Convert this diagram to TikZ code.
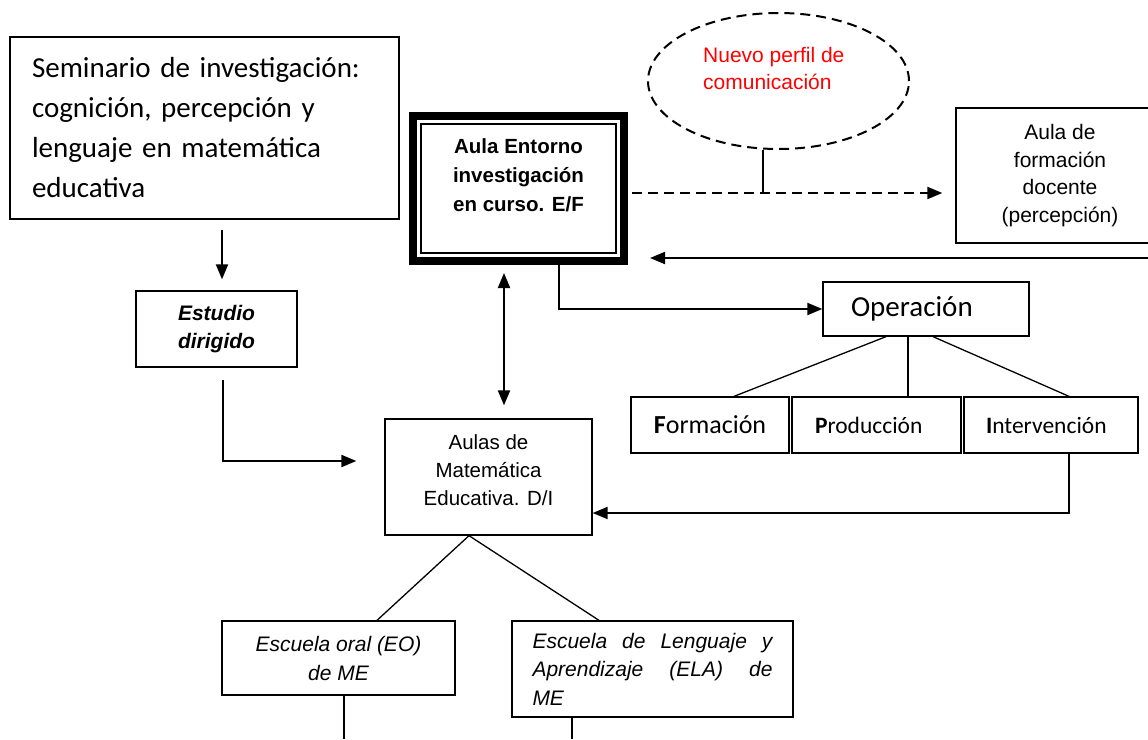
\documentclass[tikz,border=0pt]{standalone}
\usepackage{fontspec}
\setmainfont{Liberation Sans}
\newfontfamily\calibri{Carlito}
\usetikzlibrary{arrows.meta,shapes.geometric,positioning}

\begin{document}
\begin{tikzpicture}[
    x={(1pt,0pt)},
    y={(0pt,-1pt)},
    line join=miter,
    caja/.style={draw, line width=1.3pt, inner sep=0pt, align=center},
    linea/.style={line width=1.3pt},
    flecha/.style={
        line width=2pt,
        -{Triangle[length=15pt,width=12pt]}
    },
    rayas/.style={
        line width=2pt,
        dashed,
        dash pattern=on 10pt off 6pt
    }
]

% =========================================================
% Marco del dibujo
% =========================================================

\useasboundingbox (0,0) rectangle (1148,739);
\clip (0,0) rectangle (1148,739);

% =========================================================
% Seminario y estudio dirigido
% =========================================================

\node[caja, minimum width=389pt, minimum height=182pt,
      text width=345pt, inner xsep=22pt, align=left,
      font=\calibri\fontsize{29}{40}\selectfont]
    (seminario) at (204.5,128)
    {Seminario de investigación:\\cognición, percepción y\\lenguaje en matemática\\educativa};

\node[caja, minimum width=161pt, minimum height=76pt,
      font=\bfseries\itshape\fontsize{21}{28}\selectfont]
    (estudio) at (216.5,329) {Estudio\\dirigido};

% =========================================================
% Aula entorno (marco doble)
% =========================================================

\node[draw, line width=8pt, outer sep=0pt, inner sep=0pt,
      minimum width=211pt, minimum height=145pt,
      align=center, text depth=26pt,
      font=\bfseries\fontsize{20.5}{29}\selectfont]
    (aula) at (518.5,188.5)
    {Aula Entorno\\investigación\\en curso. E/F};

\draw[line width=1.7pt]
    ([shift={(8,8)}]aula.north west)
    rectangle
    ([shift={(-8,-8)}]aula.south east);

% =========================================================
% Perfil de comunicación y aula docente
% =========================================================

\node[draw, ellipse, rayas, inner sep=0pt,
      minimum width=261pt, minimum height=136pt]
    (perfil) at (778.5,81) {};

\node[anchor=west, inner sep=0pt, align=left, text=red,
      font=\fontsize{21}{27}\selectfont]
    (perfiltxt) at (703,68) {Nuevo perfil de\\comunicación};

\node[caja, minimum width=208pt, minimum height=135pt,
      font=\fontsize{21}{27.7}\selectfont]
    (docente) at (1060,175.5)
    {Aula de\\formación\\docente\\(percepción)};

% =========================================================
% Operación
% =========================================================

\node[caja, minimum width=206pt, minimum height=54pt,
      text width=150pt, inner xsep=28pt, align=left,
      font=\calibri\fontsize{29}{35}\selectfont]
    (operacion) at (926,309) {Operación};

\node[caja, minimum width=158pt, minimum height=56pt,
      font=\calibri\fontsize{26}{30}\selectfont]
    (formacion) at (710,425) {\textbf{F}ormación};

\node[caja, minimum width=169pt, minimum height=56pt,
      text width=123pt, inner xsep=23pt, align=left,
      font=\calibri\fontsize{23.5}{28}\selectfont]
    (produccion) at (876.5,425) {\textbf{P}roducción};

\node[caja, minimum width=174pt, minimum height=56pt,
      text width=130pt, inner xsep=22pt, align=left,
      font=\calibri\fontsize{23.5}{28}\selectfont]
    (intervencion) at (1051,425) {\textbf{I}ntervención};

% =========================================================
% Aulas de matemática educativa y escuelas
% =========================================================

\node[caja, minimum width=207pt, minimum height=116pt,
      text depth=13pt,
      font=\fontsize{20.5}{28}\selectfont]
    (aulasme) at (488.5,477)
    {Aulas de\\Matemática\\Educativa. D/I};

\node[caja, minimum width=233pt, minimum height=74pt,
      font=\itshape\fontsize{21}{29}\selectfont]
    (eo) at (338.5,658) {Escuela oral (EO)\\de ME};

\node[caja, minimum width=281pt, minimum height=96pt,
      text width=240pt, inner xsep=20.5pt, align=justify,
      font=\itshape\fontsize{21}{28.5}\selectfont]
    (ela) at (652.5,669)
    {Escuela de Lenguaje y\linebreak Aprendizaje (ELA) de\linebreak ME};

% =========================================================
% Puntos libres
% =========================================================

\coordinate (semabajo)   at (222,230);
\coordinate (estabajo)   at (223,380);
\coordinate (bordeder)   at (1148,258);
\coordinate (eoabajo)    at (344,739);
\coordinate (elaabajo)   at (572,739);
\coordinate (d0)         at ([yshift=-4.5pt]aula.east);

% =========================================================
% Flechas
% =========================================================

\draw[flecha, shorten >=11pt] (semabajo) -- (semabajo |- estudio.north);
\draw[flecha, shorten >=28pt] (estabajo) |- ([yshift=16pt]aulasme.west);

\draw[line width=2pt,
      {Triangle[length=15pt,width=12pt]}-{Triangle[length=15pt,width=12pt]},
      shorten <=12pt, shorten >=13pt]
    ([xshift=-14.5pt]aula.south) -- ([xshift=-14.5pt]aula.south |- aulasme.north);

\draw[flecha] ([xshift=40.5pt]aula.south) |- (operacion.west);

\draw[rayas, -{Triangle[length=15pt,width=12pt]},
      shorten <=8pt, shorten >=13pt]
    (d0) -- (d0 -| docente.west);

\draw[linea] ([xshift=-15.5pt]perfil.south) -- ([xshift=-15.5pt]perfil.south |- d0);

\draw[flecha, shorten >=26pt] (bordeder) -- (bordeder -| aula.east);

\draw[flecha] ([xshift=18pt]intervencion.south) |- ([yshift=-36pt]aulasme.east);

% =========================================================
% Ramas
% =========================================================

\draw[linea] ([xshift=-40pt]operacion.south) -- ([xshift=24pt]formacion.north);
\draw[linea] ([xshift=-18pt]operacion.south) -- ([xshift=31.5pt]produccion.north);
\draw[linea] ([xshift=7pt]operacion.south) -- ([xshift=18pt]intervencion.north);

\draw[linea] ([xshift=-19.5pt]aulasme.south) -- ([xshift=38.5pt]eo.north);
\draw[linea] ([xshift=-19.5pt]aulasme.south) -- ([xshift=-53.5pt]ela.north);

\draw[linea] (eoabajo) -- (eoabajo |- eo.south);
\draw[linea] (elaabajo) -- (elaabajo |- ela.south);

\end{tikzpicture}
\end{document}
